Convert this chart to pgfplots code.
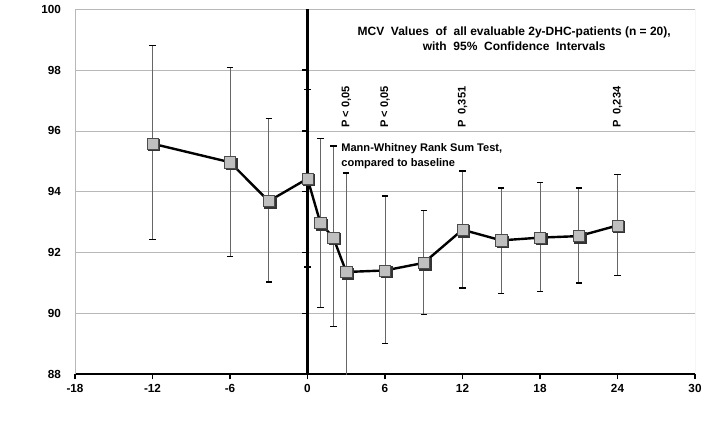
\documentclass[border=0pt]{standalone}
\usepackage{fontspec}
\setmainfont{Liberation Sans}
\usepackage{pgfplots}
\usepackage{pgfplotstable}
\pgfplotsset{compat=1.18}

% month, mean MCV, upper and lower half-width of the 95% CI
\pgfplotstableread{
x    y      up    lo
-12  95.58  3.22  3.16
-6   94.97  3.12  3.10
-3   93.69  2.72  2.66
0    94.43  2.93  2.91
1    92.97  2.78  2.77
2    92.49  3.01  2.92
3    91.36  3.26  3.60
6    91.41  2.45  2.41
9    91.66  1.72  1.70
12   92.75  1.93  1.92
15   92.40  1.72  1.74
18   92.49  1.81  1.77
21   92.54  1.58  1.54
24   92.89  1.68  1.65
}\mcv

\newcommand{\lbl}{\bfseries\fontsize{8.3}{11}\selectfont}
\newcommand{\tck}{\bfseries\fontsize{8.8}{11}\selectfont}
\newcommand{\ttl}{\bfseries\fontsize{9}{11.3}\selectfont}

\begin{document}
\begin{tikzpicture}
\begin{axis}[
    scale only axis,
    width=465pt, height=273.6pt,
    xmin=-18, xmax=30, ymin=88, ymax=100,
    xtick={-18,-12,...,30},
    ytick={88,90,...,100},
    axis x line=bottom, axis y line=left,
    x axis line style={line width=1.8pt, -},
    y axis line style={draw=none},
    ytick style={draw=none},
    xtick style={black, line width=1pt},
    tick align=outside,
    major tick length=4pt,
    ymajorgrids,
    major grid style={black!28, line width=0.6pt},
    tick label style={font=\tck},
    /pgf/number format/assume math mode=true,
    yticklabel style={xshift=-3pt},
]
\coordinate (bl) at (rel axis cs:0,0);
\coordinate (tr) at (rel axis cs:1,1);
\draw[black!28, line width=0.6pt] (rel axis cs:0,0) -- (rel axis cs:0,1);
\draw[black!28, line width=0.6pt] (rel axis cs:1,0) -- (rel axis cs:1,1);

% confidence intervals
\addplot[no marks, draw=none,
    error bars/.cd, y dir=both, y explicit,
    error bar style={black!60, line width=0.6pt},
    error mark options={black, rotate=90, line width=1pt, mark size=2.4pt}]
  table[x=x, y=y, y error plus=up, y error minus=lo] {\mcv};

% y axis through month 0
\draw[line width=2pt] (axis cs:0,88) -- (axis cs:0,100);
\draw[line width=1pt] (axis cs:0,90) -- ++(-4pt,0pt);
\draw[line width=1pt] (axis cs:0,92) -- ++(-4pt,0pt);
\draw[line width=1pt] (axis cs:0,94) -- ++(-4pt,0pt);
\draw[line width=1pt] (axis cs:0,96) -- ++(-4pt,0pt);
\draw[line width=1pt] (axis cs:0,98) -- ++(-4pt,0pt);

% mean line
\addplot[black, line width=1.8pt, no marks] table[x=x, y=y] {\mcv};
% mark shadows
\addplot[only marks, mark=square*, mark size=4.2pt,
    mark options={fill=black!80, draw=black!80},
    shift={(1.1pt,-1.1pt)}] table[x=x, y=y] {\mcv};
% marks
\addplot[only marks, mark=square*, mark size=4.2pt,
    mark options={fill=black!25, draw=black!70, line width=0.5pt}]
  table[x=x, y=y] {\mcv};

\node[font=\ttl, align=center, anchor=north, inner sep=0pt]
  at (axis cs:16,99.45)
  {MCV\ \ Values\ \ of\ \ all evaluable 2y-DHC-patients (n = 20),\\
   with\ \ 95\%\ \ Confidence\ \ Intervals};
\node[font=\lbl, rotate=90, anchor=west, inner sep=1pt] at (axis cs:3,96.05) {P < 0,05};
\node[font=\lbl, rotate=90, anchor=west, inner sep=1pt] at (axis cs:6,96.05) {P < 0,05};
\node[font=\lbl, rotate=90, anchor=west, inner sep=1pt] at (axis cs:12,96.05) {P\ \ 0,351};
\node[font=\lbl, rotate=90, anchor=west, inner sep=1pt] at (axis cs:24,96.05) {P\ \ 0,234};
\node[font=\lbl, align=left, anchor=north west, inner sep=0pt]
  at (axis cs:2.6,95.6)
  {Mann-Whitney Rank Sum Test,\\compared to baseline};
\node[font=\tck] at (axis description cs:-0.0935,0.499) {MCV};
\node[font=\tck] at (axis description cs:0.492,-0.099) {months};
\end{axis}
\pgfresetboundingbox
\path ([shift={(-56.25pt,-42pt)}]bl) rectangle ([shift={(10.5pt,7pt)}]tr);
\end{tikzpicture}
\end{document}
